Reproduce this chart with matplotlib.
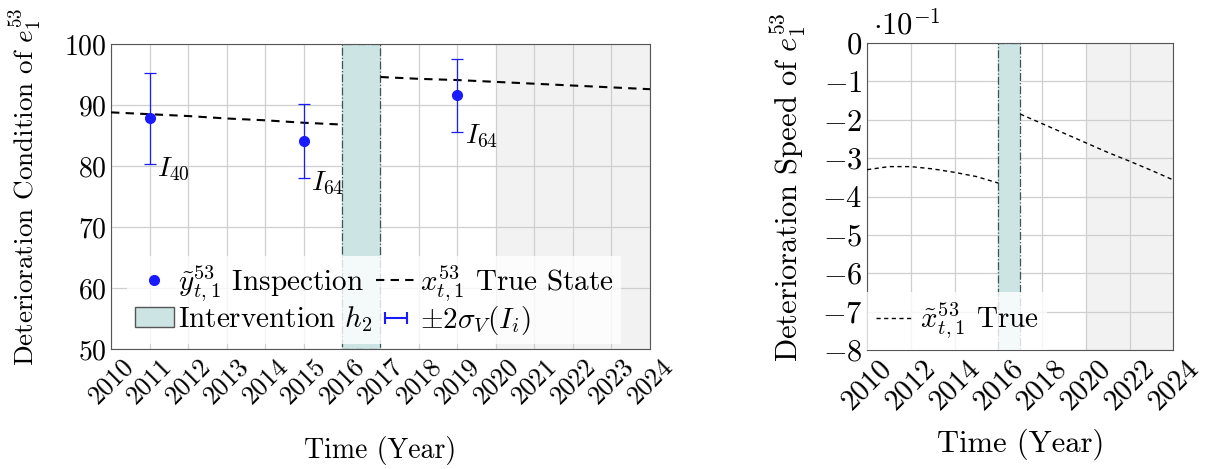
import numpy as np
import matplotlib
matplotlib.use("Agg")
import matplotlib.pyplot as plt
from matplotlib.lines import Line2D
from matplotlib.patches import Patch
from matplotlib.legend_handler import HandlerLine2D
from matplotlib.ticker import FuncFormatter, MultipleLocator

plt.rcParams["font.family"] = "serif"
plt.rcParams["font.serif"] = ["cmr10"]
plt.rcParams["mathtext.fontset"] = "cm"
plt.rcParams["axes.formatter.use_mathtext"] = True

# inspections
insp_year = [2011, 2015, 2019]
insp_val = [87.8, 84.1, 91.6]
insp_err = [7.5, 6.1, 6.0]
insp_lab = [r"$I_{40}$", r"$I_{64}$", r"$I_{64}$"]

# true condition before / after intervention
years_a = [2010, 2011, 2012, 2013, 2014, 2015, 2016]
cond_a = [88.8, 88.5, 88.2, 87.8, 87.5, 87.1, 86.8]
years_b = [2017, 2018, 2019, 2020, 2021, 2022, 2023, 2024]
cond_b = [94.6, 94.3, 94.1, 93.8, 93.5, 93.2, 92.9, 92.6]

# true speed (actual units, shown as x10^-1)
speed_a = [-0.330, -0.322, -0.322, -0.328, -0.337, -0.348, -0.365]
speed_b = [-0.185, -0.210, -0.235, -0.260, -0.285, -0.308, -0.332, -0.357]

interv = (2016, 2017)
forecast = (2020, 2024)

teal = "#cce5e4"
blue = "#1a1aff"

fig = plt.figure(figsize=(12.11, 4.69), dpi=100)
ax1 = fig.add_axes([0.0917, 0.256, 0.445, 0.650])
ax2 = fig.add_axes([0.716, 0.254, 0.253, 0.654])

for ax in (ax1, ax2):
    ax.axvspan(*forecast, color="#f2f2f2", zorder=0, lw=0)
    ax.axvspan(*interv, facecolor=teal, edgecolor="#3d5555", ls="-.", lw=0.9, zorder=1)
    ax.grid(True, color="#cfcfcf", lw=0.9, zorder=0.5)
    ax.set_axisbelow(True)
    ax.set_xlim(2010, 2024)
    for s in ax.spines.values():
        s.set_color("#555555")
    ax.tick_params(length=0)

# left panel
ax1.plot(years_a, cond_a, "k--", lw=1.5, dashes=(4, 3), zorder=3)
ax1.plot(years_b, cond_b, "k--", lw=1.5, dashes=(4, 3), zorder=3)
ax1.errorbar(insp_year, insp_val, yerr=insp_err, fmt="none", ecolor=blue,
             elinewidth=0.9, capsize=4, capthick=0.9, zorder=4)
ax1.plot(insp_year, insp_val, "o", color=blue, ms=7, zorder=5)
for yr, v, e, lab in zip(insp_year, insp_val, insp_err, insp_lab):
    ax1.text(yr + 0.2, v - e + 1.4, lab, fontsize=20, va="top", ha="left")

ax1.set_ylim(50, 100)
ax1.set_xticks(range(2010, 2025))
ax1.set_xticklabels([str(y) for y in range(2010, 2025)], rotation=45,
                    ha="center", fontsize=19)
ax1.tick_params(axis="y", labelsize=20)
ax1.set_xlabel("Time (Year)", fontsize=20, labelpad=20)
ax1.set_ylabel(r"Deterioration Condition of $e_1^{53}$", fontsize=19.5)
ax1.yaxis.set_label_coords(-0.125, 0.53)

h_insp = Line2D([], [], color=blue, marker="o", ls="none", ms=7)
h_true = Line2D([], [], color="k", ls="--", dashes=(4, 3), lw=1.5)
h_int = Patch(facecolor=teal, edgecolor="#555555")
h_err = Line2D([0, 1], [0, 0], color=blue, marker="|", ms=9, mew=1.5, lw=1.5)
leg = ax1.legend([h_insp, h_int, h_true, h_err],
                 [r"$\tilde{y}^{53}_{t,1}$ Inspection", r"Intervention $h_2$",
                  r"$x^{53}_{t,1}$ True State", r"$\pm 2\sigma_V(I_i)$"],
                 ncol=2, loc="lower left", bbox_to_anchor=(0.03, 0.015),
                 borderaxespad=0, fontsize=21, frameon=True, framealpha=0.8,
                 edgecolor="none", fancybox=False, handlelength=1.35,
                 handletextpad=0.15, columnspacing=0.1, labelspacing=0.0,
                 borderpad=0.25,
                 handler_map={h_err: HandlerLine2D(numpoints=2)})
leg.set_zorder(6)

# right panel
ax2.plot(years_a, speed_a, "k--", lw=1.0, dashes=(3, 2.5), zorder=3)
ax2.plot(years_b, speed_b, "k--", lw=1.0, dashes=(3, 2.5), zorder=3)
ax2.set_ylim(-0.8, 0)
ax2.yaxis.set_major_locator(MultipleLocator(0.1))
ax2.yaxis.set_major_formatter(FuncFormatter(lambda v, p: r"$%d$" % round(v * 10)))
ax2.set_xticks(range(2010, 2025, 2))
ax2.set_xticklabels([str(y) for y in range(2010, 2025, 2)], rotation=45,
                    ha="center", fontsize=21)
ax2.tick_params(axis="y", labelsize=22)
ax2.text(0.02, 1.01, r"$\cdot 10^{-1}$", transform=ax2.transAxes,
         fontsize=22, va="bottom", ha="left")
ax2.set_xlabel("Time (Year)", fontsize=22, labelpad=10)
ax2.set_ylabel(r"Deterioration Speed of $e_1^{53}$", fontsize=22)
ax2.yaxis.set_label_coords(-0.19, 0.53)
leg2 = ax2.legend([Line2D([], [], color="k", ls="--", dashes=(3, 2.5), lw=1.0)],
                  [r"$\tilde{x}^{53}_{t,1}$ True"],
                  loc="lower left", borderaxespad=0, fontsize=21,
                  framealpha=0.8, edgecolor="none", fancybox=False,
                  handlelength=1.2, handletextpad=0.3, borderpad=0.3)
leg2.set_zorder(6)

fig.savefig("out.png", dpi=100)
